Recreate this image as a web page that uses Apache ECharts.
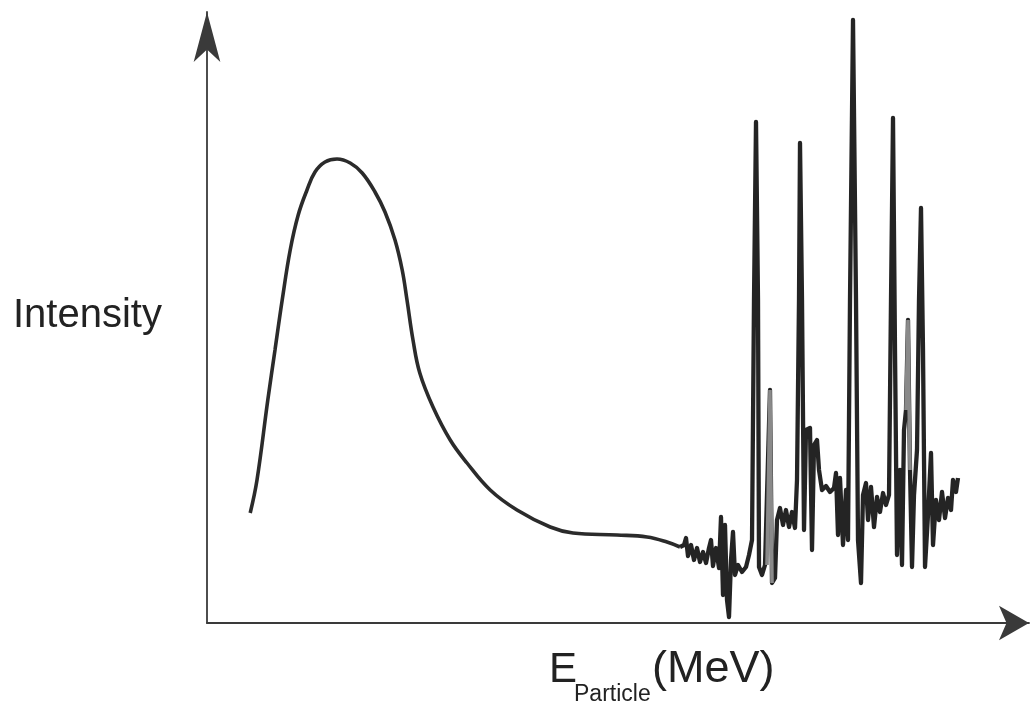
<!DOCTYPE html>
<html>
<head>
<meta charset="utf-8">
<script src="https://cdn.jsdelivr.net/npm/echarts@6/dist/echarts.min.js"></script>
<style>
html,body{margin:0;padding:0;background:#fff;}
#chart{width:1031px;height:702px;}
</style>
</head>
<body>
<div id="chart"></div>
<script>
// Energy (arbitrary units) vs intensity (arbitrary units)
const yAxisTitle = 'Intensity';
const xAxisTitleMain = 'E';
const xAxisTitleSub = 'Particle';
const xAxisTitleUnit = '(MeV)';

// smooth continuum (broad peak + tail)
const continuumX = [5.4, 6.25, 7.6, 8.5, 9.4, 10.4, 11.4, 12.5, 13.5, 14.75, 16.25, 17.9, 19.4, 21, 22.25, 23.5, 24.4, 25, 25.75, 26.6, 28.25, 30.4, 32.5, 35.4, 38.75, 42.9, 45.75, 51.25, 55, 57.5, 59.125];
const continuumY = [22, 28.6, 44.6, 54.6, 64.6, 74.6, 81.6, 86.6, 90.2, 92.2, 92.8, 92, 90, 86.2, 82.2, 76.6, 70.6, 64.6, 56.6, 50, 43.2, 36.6, 32, 26.6, 22.6, 19.2, 18, 17.6, 17.2, 16.2, 15.2];

// noisy region with sharp lines
const linesX = [59.125, 59.625, 59.875, 60.125, 60.5, 60.875, 61.25, 61.625, 62, 62.375, 62.75, 63, 63.25, 63.625, 64, 64.25, 64.5, 64.75, 65, 65.25, 65.5, 65.75, 66, 66.375, 66.875, 67.375, 67.75, 68.125, 68.375, 68.625, 68.875, 69, 69.375, 69.75, 70, 70.375, 70.625, 71, 71.25, 71.625, 72, 72.375, 72.75, 73.125, 73.5, 73.75, 74, 74.125, 74.375, 74.625, 74.875, 75.375, 75.625, 75.875, 76.25, 76.5, 76.875, 77.375, 77.875, 78.375, 78.625, 78.875, 79.125, 79.5, 79.875, 80.125, 80.375, 80.75, 81.125, 81.375, 81.75, 82, 82.375, 82.625, 83, 83.375, 83.75, 84.125, 84.5, 84.875, 85.25, 85.5, 85.75, 86, 86.25, 86.625, 86.875, 87.125, 87.375, 87.625, 87.875, 88.125, 88.375, 88.75, 89, 89.25, 89.5, 89.75, 90.125, 90.5, 90.75, 91.125, 91.5, 91.875, 92.25, 92.625, 93, 93.25, 93.625, 93.875];
const linesY = [15.2, 15.6, 17, 13.4, 15.6, 12.6, 15, 12.2, 14.2, 12, 15, 16.6, 11.4, 15, 11, 21.2, 5.6, 19.6, 4.6, 1.2, 12.6, 18.2, 9.6, 11.6, 10.2, 11.2, 13.6, 16.6, 64.6, 100.2, 64.6, 11.2, 9.6, 11.6, 11.6, 46.6, 8, 9, 20.6, 23, 19.6, 22.6, 19.2, 22.2, 19, 28.6, 64.6, 96, 64.6, 18.6, 38.6, 39, 14.6, 35.6, 36.6, 30.6, 26.6, 27.4, 26.2, 27, 30, 17.6, 29, 15.6, 26.6, 16.6, 64.6, 120.6, 64.6, 16.6, 8, 25.6, 28, 20.6, 27.2, 19.2, 25.2, 22.2, 26, 23.6, 25.6, 64.6, 101, 54.6, 13.6, 30.6, 11.6, 38.6, 42.6, 60.6, 30.6, 11.2, 25.6, 34.6, 64.6, 83, 54.6, 11.2, 21.6, 34, 15.6, 24.6, 20.6, 26.2, 21, 25, 22.6, 28.6, 26.2, 29];

// fainter (grey) lines
const greyX = [70, 70.375, 70.625, null, 87.375, 87.625, 87.875];
const greyY = [11.6, 46.6, 8, null, 42.6, 60.6, 30.6];

const zip = (xs, ys) => xs.map((x, i) => (x === null ? [null, null] : [x, ys[i]]));

const chart = echarts.init(document.getElementById('chart'), null, {renderer: 'canvas'});
const axisCol = '#3a3a3a';
const fontFam = '"Liberation Sans", Arial, Helvetica, sans-serif';

chart.setOption({
  animation: false,
  backgroundColor: '#ffffff',
  grid: {left: 207, right: 2, top: 12, bottom: 79, containLabel: false},
  xAxis: {
    type: 'value', min: 0, max: 102.75,
    axisLine: {show: true, onZero: false, symbol: ['none', 'arrow'], symbolSize: [26, 30], lineStyle: {color: axisCol, width: 1.8}},
    axisTick: {show: false}, axisLabel: {show: false}, splitLine: {show: false}
  },
  yAxis: {
    type: 'value', min: 0, max: 122.2,
    axisLine: {show: true, onZero: false, symbol: ['none', 'arrow'], symbolSize: [20, 50], lineStyle: {color: axisCol, width: 1.8}},
    axisTick: {show: false}, axisLabel: {show: false}, splitLine: {show: false}
  },
  series: [
    {
      type: 'line', data: zip(continuumX, continuumY), smooth: 0.4, showSymbol: false, clip: false,
      lineStyle: {color: '#2b2b2b', width: 3.6}
    },
    {
      type: 'line', data: zip(linesX, linesY), smooth: false, showSymbol: false, clip: false,
      lineStyle: {color: '#242424', width: 4.3, join: 'round'}
    },
    {
      type: 'line', data: zip(greyX, greyY), smooth: false, showSymbol: false, clip: false, connectNulls: false,
      lineStyle: {color: '#8a8a8a', width: 3.6}
    }
  ],
  graphic: [
    {type: 'text', style: {text: yAxisTitle, x: 13, y: 316, fill: '#222', font: '40px ' + fontFam, align: 'left', verticalAlign: 'middle'}},
    {type: 'text', style: {text: xAxisTitleMain, x: 549, y: 670, fill: '#222', font: '42px ' + fontFam, align: 'left', verticalAlign: 'middle'}},
    {type: 'text', style: {text: xAxisTitleSub, x: 574, y: 695, fill: '#222', font: '23px ' + fontFam, align: 'left', verticalAlign: 'middle'}},
    {type: 'text', style: {text: xAxisTitleUnit, x: 652, y: 670, fill: '#222', font: '45px ' + fontFam, align: 'left', verticalAlign: 'middle'}}
  ]
});
</script>
</body>
</html>
